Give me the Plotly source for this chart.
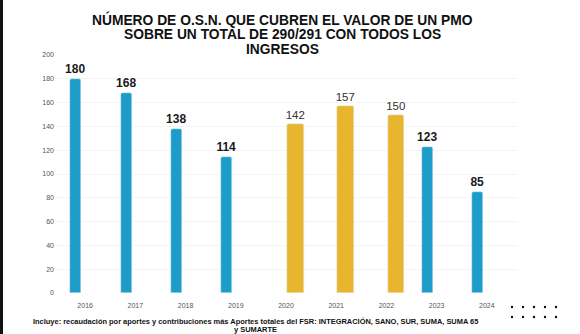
import plotly.graph_objects as go

# Chart data
years = ["2016", "2017", "2018", "2019", "2020", "2021", "2022", "2023", "2024"]
blue_years = ["2016", "2017", "2018", "2019", "2023", "2024"]
blue_values = [180, 168, 138, 114, 123, 85]
gold_years = ["2020", "2021", "2022"]
gold_values = [142, 157, 150]
y_ticks = [0, 20, 40, 60, 80, 100, 120, 140, 160, 180, 200]

BLUE = "#1C9CC9"
GOLD = "#E8B62E"
W, H = 580, 334
L, R, T, B = 55, 63, 55, 41
PW, PH = W - L - R, H - T - B


def px_to_paper(x, y):
    return (x - L) / PW, (H - B - y) / PH


fig = go.Figure()
fig.add_trace(go.Bar(
    x=blue_years, y=blue_values, marker=dict(color=BLUE, cornerradius=2),
    width=0.22, offset=-0.295,
    text=blue_values, textposition="outside", cliponaxis=False, constraintext="none",
    textfont=dict(family="Liberation Sans", size=12, color="#1a1a1a", weight="bold"),
    showlegend=False,
))
fig.add_trace(go.Bar(
    x=gold_years, y=gold_values, marker=dict(color=GOLD, cornerradius=2),
    width=0.333, offset=0.024,
    text=gold_values, textposition="outside", cliponaxis=False, constraintext="none",
    textfont=dict(family="Liberation Sans", size=11.5, color="#333333"),
    showlegend=False,
))

title_lines = [
    "NÚMERO DE O.S.N. QUE CUBREN EL VALOR DE UN PMO",
    "SOBRE UN TOTAL DE 290/291 CON TODOS LOS",
    "INGRESOS",
]
footer_lines = [
    "Incluye: recaudación por aportes y contribuciones más Aportes totales del FSR: INTEGRACIÓN, SANO, SUR, SUMA, SUMA 65",
    "y SUMARTE",
]

annotations = []
for i, line in enumerate(title_lines):
    xp, yp = px_to_paper(282, 19 + 15 * i)
    annotations.append(dict(
        text=line, x=xp, y=yp, xref="paper", yref="paper", showarrow=False,
        xanchor="center", yanchor="middle",
        font=dict(family="Liberation Sans", size=13.8, color="#111111", weight="bold"),
    ))
for i, line in enumerate(footer_lines):
    xp, yp = px_to_paper(255, 321 + 8 * i)
    annotations.append(dict(
        text=line, x=xp, y=yp, xref="paper", yref="paper", showarrow=False,
        xanchor="center", yanchor="middle",
        font=dict(family="Liberation Sans", size=7.45, color="#111111", weight="bold"),
    ))

shapes = []
# dotted decoration in the lower right corner
for row_y in (307, 317):
    for col_x in (512, 523, 534, 545, 556):
        x0, y0 = px_to_paper(col_x - 1.2, row_y + 1.2)
        x1, y1 = px_to_paper(col_x + 1.2, row_y - 1.2)
        shapes.append(dict(type="circle", xref="paper", yref="paper",
                           x0=x0, y0=y0, x1=x1, y1=y1,
                           fillcolor="#111111", line=dict(width=0)))
# dark strip on the left edge
x0, y0 = px_to_paper(0, H)
x1, y1 = px_to_paper(3, 0)
shapes.append(dict(type="rect", xref="paper", yref="paper", x0=x0, y0=y0, x1=x1, y1=y1,
                   fillcolor="#111111", line=dict(width=0), layer="above"))

fig.update_layout(
    width=W, height=H,
    margin=dict(l=L, r=R, t=T, b=B, pad=0),
    paper_bgcolor="white", plot_bgcolor="white",
    barmode="overlay",
    bargap=0,
    annotations=annotations,
    shapes=shapes,
    xaxis=dict(
        type="category", categoryorder="array", categoryarray=years,
        range=[-0.6, 8.6], showgrid=False, zeroline=False, showline=False,
        ticks="outside", ticklen=6, tickcolor="rgba(0,0,0,0)",
        tickfont=dict(family="Liberation Sans", size=7, color="#555555"),
    ),
    yaxis=dict(
        range=[0, 200], tickvals=y_ticks, showgrid=True, gridcolor="#f4f4f4",
        zeroline=False, showline=False,
        tickfont=dict(family="Liberation Sans", size=7, color="#555555"),
    ),
)

fig.write_html("out.html")
